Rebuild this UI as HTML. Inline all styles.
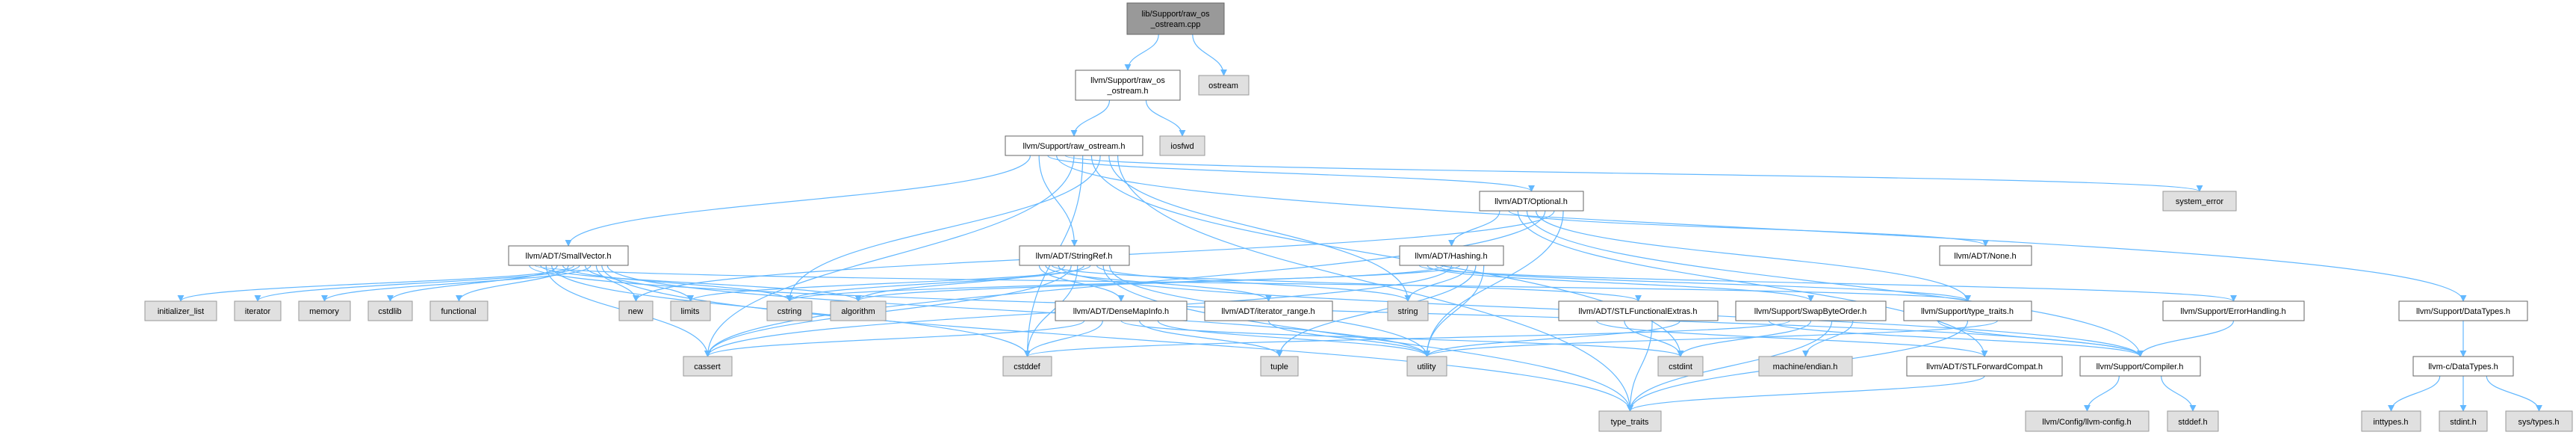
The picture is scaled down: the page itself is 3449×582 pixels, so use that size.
<!DOCTYPE html>
<html><head><meta charset="utf-8"><style>
html,body{margin:0;padding:0;background:#fff;}
svg{display:block;}
text{font-family:"Liberation Sans",Arial,sans-serif;font-size:11px;fill:#000;}
</style></head><body>
<svg id="g" width="3449" height="582" viewBox="0 0 3449 582" xmlns="http://www.w3.org/2000/svg">
<defs><marker id="a" viewBox="0 0 10 10" refX="9" refY="5" markerWidth="9" markerHeight="9" orient="auto" markerUnits="userSpaceOnUse"><path d="M0,0 L10,5 L0,10 z" fill="#63b8ff"/></marker></defs>
<g id="edges"></g>
<g id="nodes">
<rect x="1509" y="4" width="130" height="42" fill="#999" stroke="#666"/><text x="1574" y="22" text-anchor="middle">lib/Support/raw_os</text><text x="1574" y="36" text-anchor="middle">_ostream.cpp</text>
<rect x="1440" y="94" width="140" height="40" fill="#fff" stroke="#666"/><text x="1510" y="111" text-anchor="middle">llvm/Support/raw_os</text><text x="1510" y="125" text-anchor="middle">_ostream.h</text>
<rect x="1605" y="101" width="67" height="26" fill="#e0e0e0" stroke="#999"/><text x="1638" y="118" text-anchor="middle">ostream</text>
<rect x="1346" y="182" width="184" height="26" fill="#fff" stroke="#666"/><text x="1438" y="199" text-anchor="middle">llvm/Support/raw_ostream.h</text>
<rect x="1553" y="182" width="60" height="26" fill="#e0e0e0" stroke="#999"/><text x="1583" y="199" text-anchor="middle">iosfwd</text>
<rect x="1981" y="256" width="139" height="26" fill="#fff" stroke="#666"/><text x="2050" y="273" text-anchor="middle">llvm/ADT/Optional.h</text>
<rect x="2896" y="256" width="98" height="26" fill="#e0e0e0" stroke="#999"/><text x="2945" y="273" text-anchor="middle">system_error</text>
<rect x="681" y="329" width="160" height="26" fill="#fff" stroke="#666"/><text x="761" y="346" text-anchor="middle">llvm/ADT/SmallVector.h</text>
<rect x="1365" y="329" width="147" height="26" fill="#fff" stroke="#666"/><text x="1438" y="346" text-anchor="middle">llvm/ADT/StringRef.h</text>
<rect x="1874" y="329" width="139" height="26" fill="#fff" stroke="#666"/><text x="1943" y="346" text-anchor="middle">llvm/ADT/Hashing.h</text>
<rect x="2597" y="329" width="123" height="26" fill="#fff" stroke="#666"/><text x="2658" y="346" text-anchor="middle">llvm/ADT/None.h</text>
<rect x="194" y="403" width="96" height="26" fill="#e0e0e0" stroke="#999"/><text x="242" y="420" text-anchor="middle">initializer_list</text>
<rect x="314" y="403" width="62" height="26" fill="#e0e0e0" stroke="#999"/><text x="345" y="420" text-anchor="middle">iterator</text>
<rect x="400" y="403" width="69" height="26" fill="#e0e0e0" stroke="#999"/><text x="434" y="420" text-anchor="middle">memory</text>
<rect x="493" y="403" width="59" height="26" fill="#e0e0e0" stroke="#999"/><text x="522" y="420" text-anchor="middle">cstdlib</text>
<rect x="576" y="403" width="77" height="26" fill="#e0e0e0" stroke="#999"/><text x="614" y="420" text-anchor="middle">functional</text>
<rect x="829" y="403" width="45" height="26" fill="#e0e0e0" stroke="#999"/><text x="851" y="420" text-anchor="middle">new</text>
<rect x="898" y="403" width="53" height="26" fill="#e0e0e0" stroke="#999"/><text x="924" y="420" text-anchor="middle">limits</text>
<rect x="1027" y="403" width="60" height="26" fill="#e0e0e0" stroke="#999"/><text x="1057" y="420" text-anchor="middle">cstring</text>
<rect x="1112" y="403" width="74" height="26" fill="#e0e0e0" stroke="#999"/><text x="1149" y="420" text-anchor="middle">algorithm</text>
<rect x="1413" y="403" width="176" height="26" fill="#fff" stroke="#666"/><text x="1501" y="420" text-anchor="middle">llvm/ADT/DenseMapInfo.h</text>
<rect x="1613" y="403" width="171" height="26" fill="#fff" stroke="#666"/><text x="1698" y="420" text-anchor="middle">llvm/ADT/iterator_range.h</text>
<rect x="1858" y="403" width="54" height="26" fill="#e0e0e0" stroke="#999"/><text x="1885" y="420" text-anchor="middle">string</text>
<rect x="2087" y="403" width="213" height="26" fill="#fff" stroke="#666"/><text x="2193" y="420" text-anchor="middle">llvm/ADT/STLFunctionalExtras.h</text>
<rect x="2324" y="403" width="201" height="26" fill="#fff" stroke="#666"/><text x="2424" y="420" text-anchor="middle">llvm/Support/SwapByteOrder.h</text>
<rect x="2549" y="403" width="171" height="26" fill="#fff" stroke="#666"/><text x="2634" y="420" text-anchor="middle">llvm/Support/type_traits.h</text>
<rect x="2896" y="403" width="189" height="26" fill="#fff" stroke="#666"/><text x="2990" y="420" text-anchor="middle">llvm/Support/ErrorHandling.h</text>
<rect x="3212" y="403" width="172" height="26" fill="#fff" stroke="#666"/><text x="3298" y="420" text-anchor="middle">llvm/Support/DataTypes.h</text>
<rect x="915" y="477" width="65" height="26" fill="#e0e0e0" stroke="#999"/><text x="947" y="494" text-anchor="middle">cassert</text>
<rect x="1343" y="477" width="65" height="26" fill="#e0e0e0" stroke="#999"/><text x="1375" y="494" text-anchor="middle">cstddef</text>
<rect x="1688" y="477" width="50" height="26" fill="#e0e0e0" stroke="#999"/><text x="1713" y="494" text-anchor="middle">tuple</text>
<rect x="1884" y="477" width="53" height="26" fill="#e0e0e0" stroke="#999"/><text x="1910" y="494" text-anchor="middle">utility</text>
<rect x="2220" y="477" width="60" height="26" fill="#e0e0e0" stroke="#999"/><text x="2250" y="494" text-anchor="middle">cstdint</text>
<rect x="2355" y="477" width="125" height="26" fill="#e0e0e0" stroke="#999"/><text x="2417" y="494" text-anchor="middle">machine/endian.h</text>
<rect x="2553" y="477" width="208" height="26" fill="#fff" stroke="#666"/><text x="2657" y="494" text-anchor="middle">llvm/ADT/STLForwardCompat.h</text>
<rect x="2785" y="477" width="161" height="26" fill="#fff" stroke="#666"/><text x="2865" y="494" text-anchor="middle">llvm/Support/Compiler.h</text>
<rect x="3231" y="477" width="134" height="26" fill="#fff" stroke="#666"/><text x="3298" y="494" text-anchor="middle">llvm-c/DataTypes.h</text>
<rect x="2141" y="550" width="83" height="27" fill="#e0e0e0" stroke="#999"/><text x="2182" y="568" text-anchor="middle">type_traits</text>
<rect x="2712" y="550" width="165" height="27" fill="#e0e0e0" stroke="#999"/><text x="2794" y="568" text-anchor="middle">llvm/Config/llvm-config.h</text>
<rect x="2902" y="550" width="68" height="27" fill="#e0e0e0" stroke="#999"/><text x="2936" y="568" text-anchor="middle">stddef.h</text>
<rect x="3162" y="550" width="79" height="27" fill="#e0e0e0" stroke="#999"/><text x="3201" y="568" text-anchor="middle">inttypes.h</text>
<rect x="3266" y="550" width="64" height="27" fill="#e0e0e0" stroke="#999"/><text x="3298" y="568" text-anchor="middle">stdint.h</text>
<rect x="3355" y="550" width="89" height="27" fill="#e0e0e0" stroke="#999"/><text x="3399" y="568" text-anchor="middle">sys/types.h</text>
</g>
</svg>
<script>
var N={root:[1509,4,130,42],rosh:[1440,94,140,40],ostream:[1605,101,67,26],ro:[1346,182,184,26],iosfwd:[1553,182,60,26],
opt:[1981,256,139,26],syserr:[2896,256,98,26],sv:[681,329,160,26],sr:[1365,329,147,26],hash:[1874,329,139,26],none:[2597,329,123,26],
il:[194,403,96,26],iter:[314,403,62,26],mem:[400,403,69,26],cstdlib:[493,403,59,26],func:[576,403,77,26],nw:[829,403,45,26],lim:[898,403,53,26],
cstring:[1027,403,60,26],alg:[1112,403,74,26],dmi:[1413,403,176,26],ir:[1613,403,171,26],str:[1858,403,54,26],sfe:[2087,403,213,26],
sbo:[2324,403,201,26],stt:[2549,403,171,26],eh:[2896,403,189,26],dt:[3212,403,172,26],cassert:[915,477,65,26],cstddef:[1343,477,65,26],
tuple:[1688,477,50,26],util:[1884,477,53,26],cstdint:[2220,477,60,26],endian:[2355,477,125,26],sfc:[2553,477,208,26],comp:[2785,477,161,26],
cdt:[3231,477,134,26],tt:[2141,550,83,27],cfg:[2712,550,165,27],stddef:[2902,550,68,27],inttypes:[3162,550,79,27],stdint:[3266,550,64,27],systypes:[3355,550,89,27]};
var E={root:['rosh','ostream'],rosh:['ro','iosfwd'],
ro:['sv','sr','opt','dt','syserr','cassert','cstddef','cstdint','cstring','str','tt'],
sv:['comp','stt','alg','cassert','cstddef','cstdlib','cstring','func','il','iter','lim','mem','nw','tt','util'],
sr:['dmi','ir','sfe','comp','alg','cassert','cstddef','cstring','lim','str','tt','util'],
dmi:['cassert','cstddef','cstdint','tuple','util'],ir:['util'],sfe:['sfc','cstdint','tt','util'],sfc:['tt'],comp:['cfg','stddef'],
opt:['hash','none','sfc','comp','stt','cassert','nw','util'],
hash:['eh','sbo','stt','alg','cassert','cstring','str','tuple','util'],eh:['comp'],
sbo:['comp','cstddef','cstdint','tt','endian'],stt:['comp','tt','util'],dt:['cdt'],cdt:['inttypes','stdint','systypes']};
var g=document.getElementById('edges'),s='';
for(var k in E){var a=N[k];E[k].forEach(function(t,i){var b=N[t];
var sx=a[0]+a[2]*(0.15+0.7*(i+0.5)/E[k].length),sy=a[1]+a[3];
var tx=b[0]+b[2]/2,ty=b[1];var d;
if(b[1]>a[1]+a[3]){var m=(ty-sy)*0.5;d='M'+sx+','+sy+' C'+sx+','+(sy+m)+' '+tx+','+(ty-m)+' '+tx+','+ty;}
else{sy=a[1]+a[3]/2;sx=(tx>a[0]+a[2]/2)?a[0]+a[2]:a[0];ty=b[1]+b[3]/2;tx=(tx>a[0])?b[0]:b[0]+b[2];d='M'+sx+','+sy+' L'+tx+','+ty;}
s+='<path d="'+d+'" fill="none" stroke="#63b8ff" stroke-width="1.2" marker-end="url(#a)"/>';});}
g.innerHTML=s;
</script>
</body></html>
